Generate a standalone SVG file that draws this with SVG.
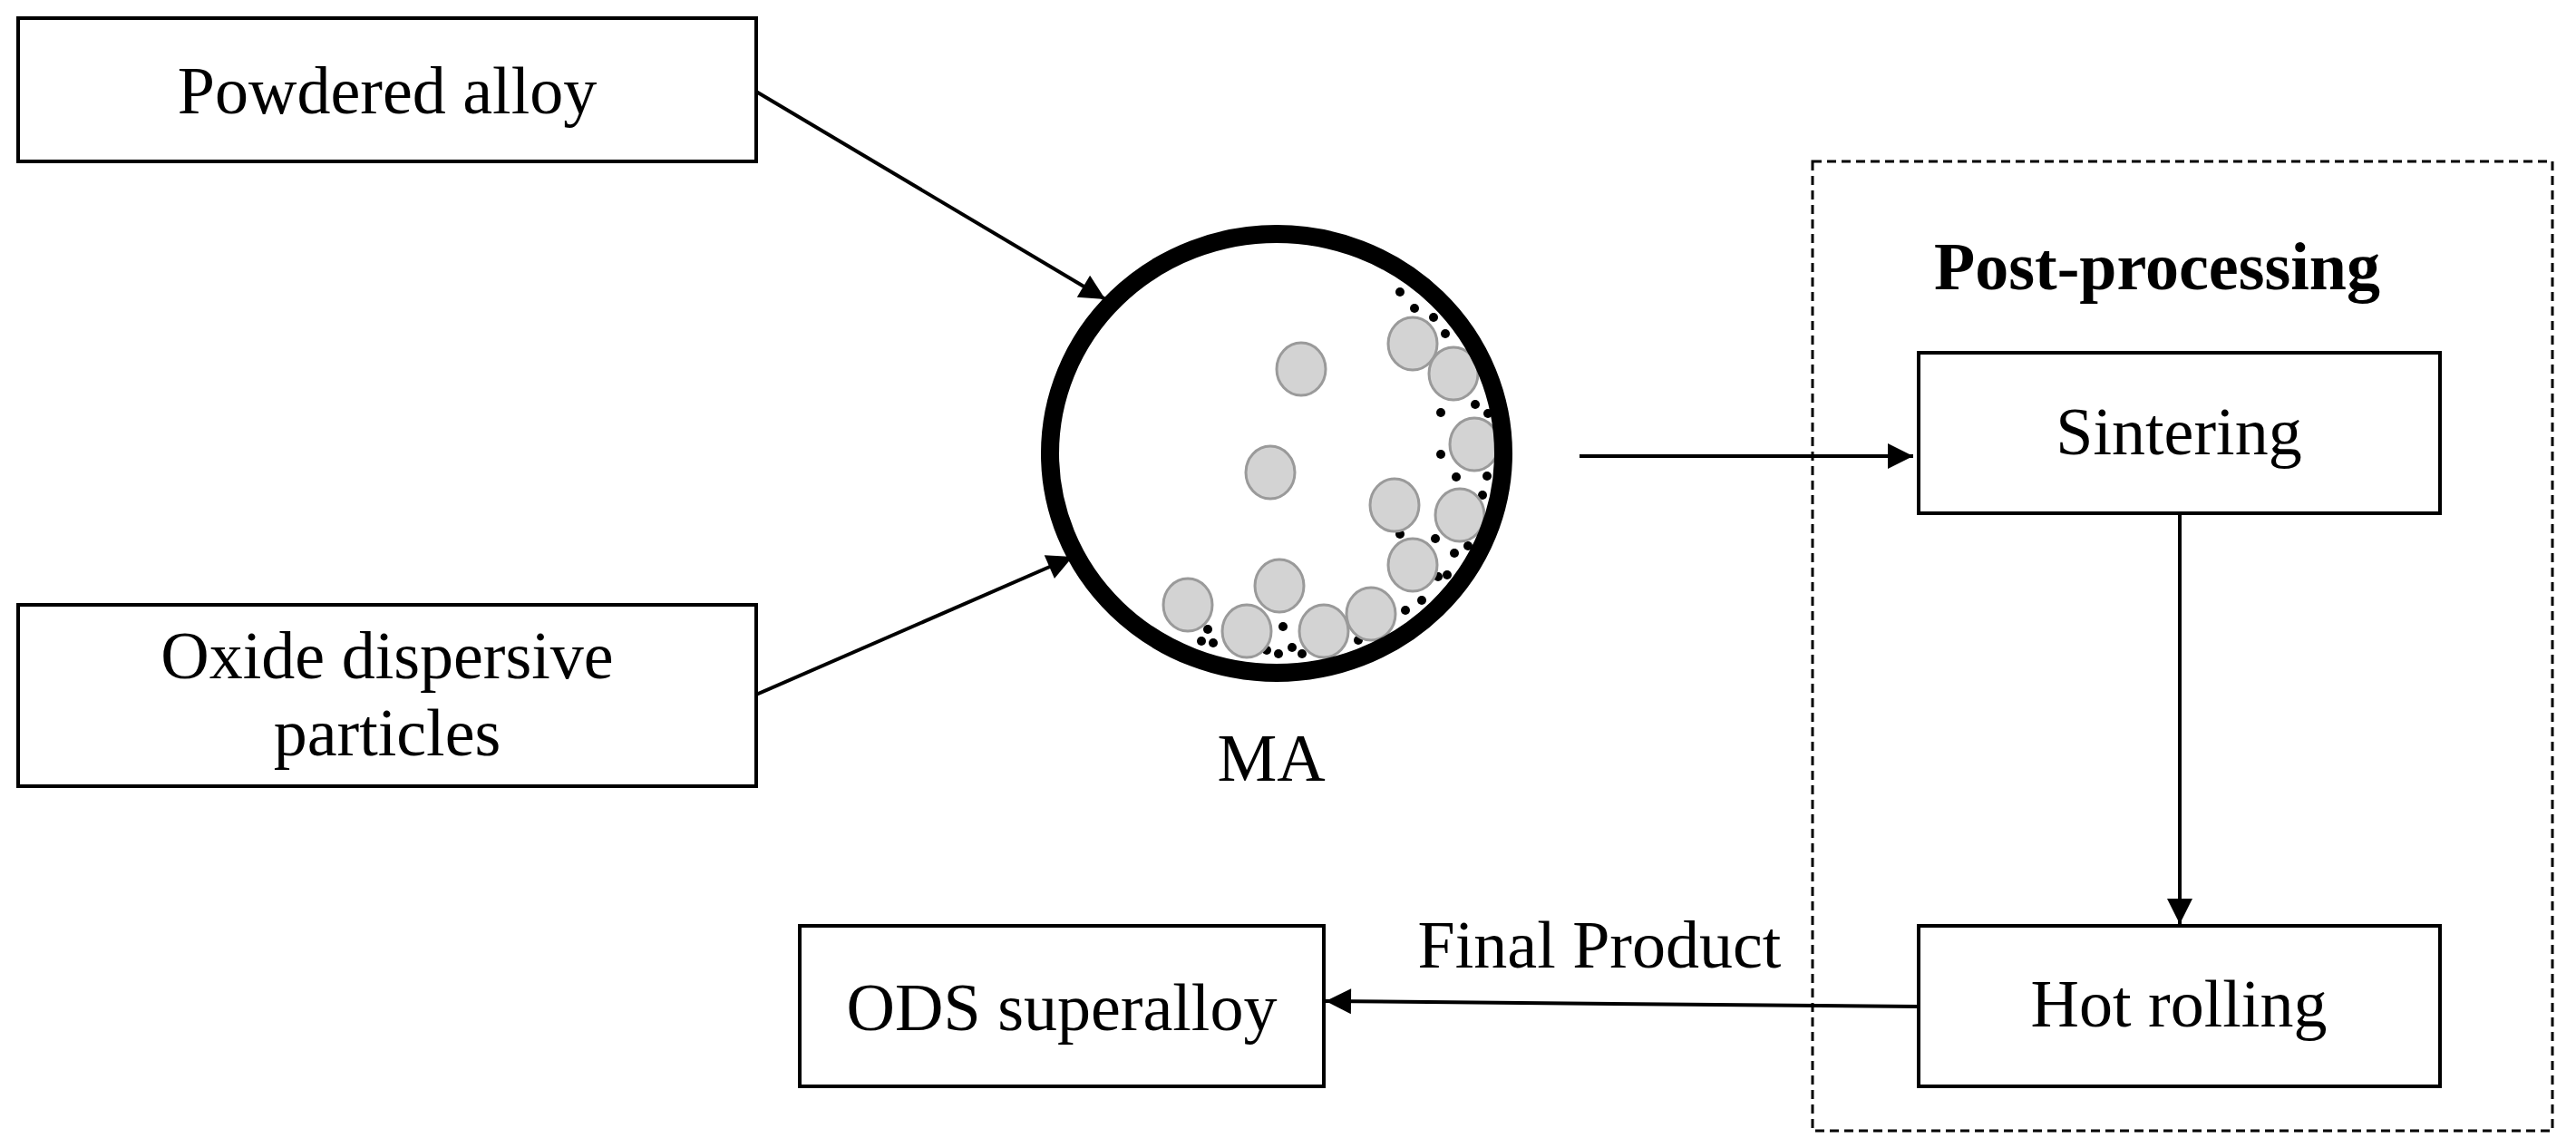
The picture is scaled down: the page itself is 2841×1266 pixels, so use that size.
<svg xmlns="http://www.w3.org/2000/svg" width="2841" height="1266" viewBox="0 0 2841 1266">
<style>
.box{fill:#fff;stroke:#000;stroke-width:4}
.t{font-family:"Liberation Serif","Times New Roman",serif;font-size:74px;fill:#000;text-anchor:middle}
.c{stroke:#000;stroke-width:4;fill:none}
.p{fill:#d3d3d3;stroke:#9a9a9a;stroke-width:3}
.d{fill:#000}
</style>
<defs>
<marker id="ah" viewBox="0 0 10 10" refX="10" refY="5" markerWidth="9" markerHeight="7" markerUnits="strokeWidth" orient="auto">
<path d="M0,0 L10,5 L0,10 Z" fill="#000"/>
</marker>
</defs>
<rect width="2841" height="1266" fill="#fff"/>
<g id="powdered-alloy"><rect class="box" x="20" y="20" width="814" height="158"/><text class="t" x="427" y="125">Powdered alloy</text></g>
<g id="oxide"><rect class="box" x="20" y="667" width="814" height="200"/><text class="t" x="427" y="748">Oxide dispersive</text><text class="t" x="427" y="833">particles</text></g>
<g id="ma">
<g class="d">
<circle cx="1544" cy="322" r="5"/><circle cx="1560" cy="340" r="5"/><circle cx="1581" cy="350" r="5"/><circle cx="1594" cy="368" r="5"/>
<circle cx="1589" cy="455" r="5"/><circle cx="1627" cy="446" r="5"/><circle cx="1641" cy="456" r="5"/><circle cx="1589" cy="501" r="5"/>
<circle cx="1606" cy="526" r="5"/><circle cx="1640" cy="525" r="5"/><circle cx="1635" cy="546" r="5"/><circle cx="1544" cy="589" r="5"/>
<circle cx="1583" cy="594" r="5"/><circle cx="1604" cy="610" r="5"/><circle cx="1619" cy="602" r="5"/><circle cx="1586" cy="636" r="5"/>
<circle cx="1596" cy="634" r="5"/><circle cx="1568" cy="662" r="5"/><circle cx="1550" cy="673" r="5"/><circle cx="1498" cy="706" r="5"/>
<circle cx="1415" cy="691" r="5"/><circle cx="1332" cy="694" r="5"/><circle cx="1325" cy="707" r="5"/><circle cx="1338" cy="709" r="5"/>
<circle cx="1397" cy="717" r="5"/><circle cx="1410" cy="721" r="5"/><circle cx="1425" cy="714" r="5"/><circle cx="1436" cy="721" r="5"/>
</g>
<g class="p">
<ellipse cx="1435" cy="407" rx="27" ry="29"/><ellipse cx="1401" cy="521" rx="27" ry="29"/><ellipse cx="1558" cy="379" rx="27" ry="29"/>
<ellipse cx="1603" cy="412" rx="27" ry="29"/><ellipse cx="1626" cy="490" rx="27" ry="29"/><ellipse cx="1538" cy="557" rx="27" ry="29"/>
<ellipse cx="1610" cy="568" rx="27" ry="29"/><ellipse cx="1558" cy="623" rx="27" ry="29"/><ellipse cx="1411" cy="646" rx="27" ry="29"/>
<ellipse cx="1310" cy="667" rx="27" ry="29"/><ellipse cx="1375" cy="696" rx="27" ry="29"/><ellipse cx="1460" cy="696" rx="27" ry="29"/>
<ellipse cx="1512" cy="677" rx="27" ry="29"/>
</g>
<ellipse cx="1408" cy="500" rx="250" ry="242" fill="none" stroke="#000" stroke-width="20"/>
<text class="t" x="1402" y="861">MA</text>
</g>
<g id="post-processing"><rect x="1999" y="178" width="816" height="1069" fill="none" stroke="#000" stroke-width="3" stroke-dasharray="10,6"/><text class="t" x="2379" y="319" font-weight="bold" font-size="82">Post-processing</text></g>
<g id="sintering"><rect class="box" x="2116" y="389" width="575" height="177"/><text class="t" x="2403" y="501">Sintering</text></g>
<g id="hot-rolling"><rect class="box" x="2116" y="1021" width="575" height="177"/><text class="t" x="2403" y="1132">Hot rolling</text></g>
<g id="ods"><rect class="box" x="882" y="1021" width="578" height="177"/><text class="t" x="1171" y="1136">ODS superalloy</text></g>
<g id="connectors">
<line class="c" x1="834" y1="101" x2="1219" y2="330" marker-end="url(#ah)"/>
<line class="c" x1="834" y1="766" x2="1183" y2="614" marker-end="url(#ah)"/>
<line class="c" x1="1742" y1="503" x2="2110" y2="503" marker-end="url(#ah)"/>
<line class="c" x1="2404" y1="566" x2="2404" y2="1019" marker-end="url(#ah)"/>
<line class="c" x1="2116" y1="1110" x2="1462" y2="1104" marker-end="url(#ah)"/>
<text class="t" x="1764" y="1067">Final Product</text>
</g>
</svg>
